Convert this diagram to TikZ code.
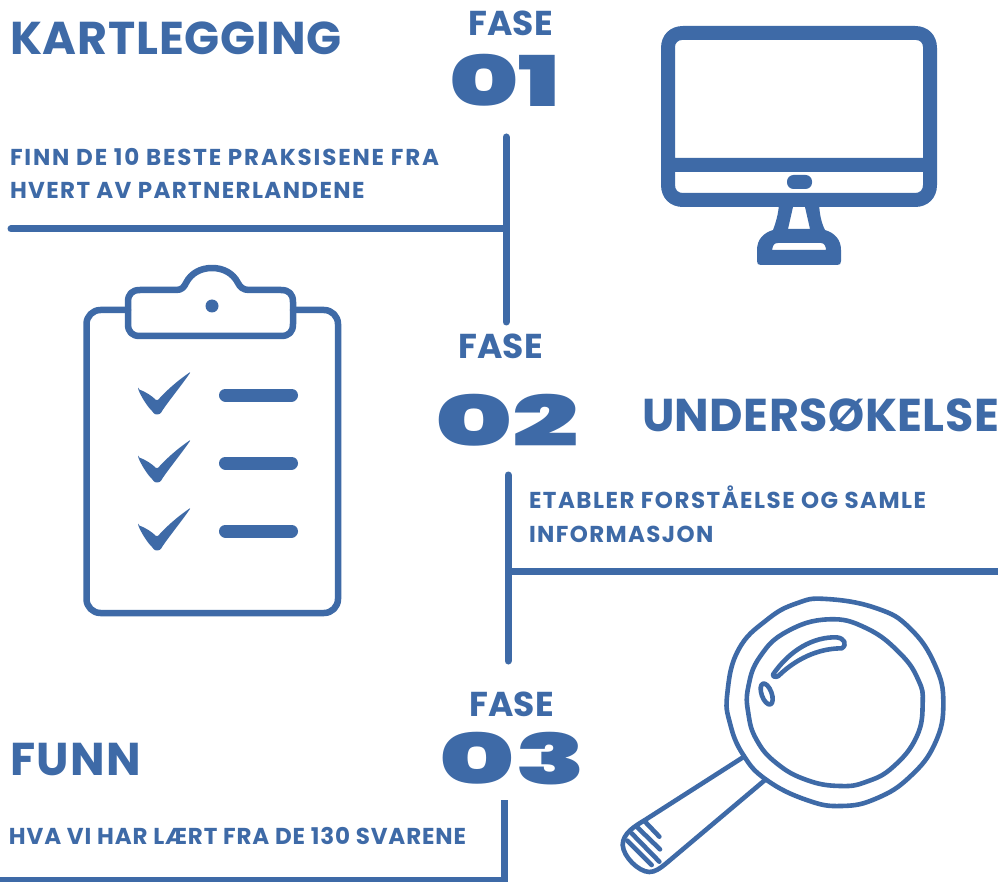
\documentclass[tikz,border=0pt]{standalone}
\usepackage{fontspec}
\setmainfont{Poppins}[BoldFont=Poppins Bold]
\newfontfamily\heavy{Poppins Black}
\newfontfamily\headf{Poppins Bold}[LetterSpace=1.8]
\newfontfamily\heads{Poppins Bold}[LetterSpace=1]
\newfontfamily\headw{Poppins Bold}[LetterSpace=3]
\newfontfamily\descf{Poppins Bold}[LetterSpace=6]
\newfontfamily\descw{Poppins Bold}[LetterSpace=8]
\newfontfamily\descm{Poppins Bold}[LetterSpace=6.5]
\newfontfamily\descg{Poppins Bold}[LetterSpace=3.7]
\newfontfamily\fasef{Poppins Bold}[LetterSpace=1]
\definecolor{blu}{HTML}{3E6AA7}
\tikzset{
 txt/.style={inner sep=0pt,outer sep=0pt,text=blu,anchor=base west,align=left},
 head/.style={txt,font=\headf\fontsize{46}{46}\selectfont},
 fase/.style={txt,font=\fasef\fontsize{34.5}{34.5}\selectfont},
 desc/.style={txt,font=\descf\fontsize{23}{23}\selectfont},
 bar/.style={draw=blu,line width=7pt,line cap=round},
 ink/.style={draw=blu,line join=round,line cap=round},
 num/.style={inner sep=0pt,text=blu,font=\heavy\fontsize{70}{70}\selectfont,anchor=base},
}
\begin{document}
\begin{tikzpicture}[x=1pt,y=-1pt]
\useasboundingbox[fill=white] (0,0) rectangle (998,882);
% text
\node[head] (t1) at (10,55) {KARTLEGGING};
\node[head,font=\heads\fontsize{46}{46}\selectfont] (t2) at (642,431) {UNDERSØKELSE};
\node[head,font=\headw\fontsize{46}{46}\selectfont] (t3) at (10,775) {FUNN};
\node[fase] (f1) at (468,36) {FASE};
\node[fase] (f2) at (458,358) {FASE};
\node[fase] (f3) at (469,716) {FASE};
\node[num] (n1) at (505,107) {\scalebox{1.5}[1]{01}};
\node[num] (n2) at (507,446) {\scalebox{1.67}[1]{02}};
\node[num] (n3) at (512.5,784) {\scalebox{1.63}[1]{03}};
\node[desc,font=\descw\fontsize{23}{23}\selectfont] (d1a) at (10,166) {FINN DE 10 BESTE PRAKSISENE FRA};
\node[desc] (d1b) at (10,199) {HVERT AV PARTNERLANDENE};
\node[desc,font=\descm\fontsize{23}{23}\selectfont] (d2a) at (529,508) {ETABLER FORSTÅELSE OG SAMLE};
\node[desc] (d2b) at (529,542) {INFORMASJON};
\node[desc,font=\descg\fontsize{23}{23}\selectfont] (d3) at (9,844) {HVA VI HAR LÆRT FRA DE 130 SVARENE};
% connectors
\coordinate (a1) at (506,137); \coordinate (a2) at (506,322);
\coordinate (a3) at (11,229); \coordinate (a4) at (506,229);
\coordinate (b1) at (508,475); \coordinate (b2) at (508,661);
\coordinate (b3) at (508,571); \coordinate (b4) at (998,571);
\coordinate (c1) at (504,800); \coordinate (c2) at (504,882);
\coordinate (c3) at (0,880); \coordinate (c4) at (504,880);
\draw[bar] (a1)--(a2); \draw[bar] (a3)--(a4);
\draw[bar] (b1)--(b2); \draw[bar,line cap=butt] (b3)--(b4);
\draw[bar,line cap=butt] (c1)--(c2); \draw[bar,line cap=butt] (c3)--(c4);
% monitor
\fill[blu,even odd rule]
  (661,48) .. controls (661,35) and (670,26) .. (683,26) -- (915,26)
  .. controls (928,26) and (937,35) .. (937,48) -- (937,185)
  .. controls (937,198) and (928,207) .. (915,207) -- (683,207)
  .. controls (670,207) and (661,198) .. (661,185) -- cycle
  (675,158) -- (675,47) .. controls (675,43) and (678,40) .. (682,40) -- (916,40)
  .. controls (920,40) and (923,43) .. (923,47) -- (923,158) -- cycle
  (675,172) -- (923,172) -- (923,185) .. controls (923,190) and (920,193) .. (915,193)
  -- (683,193) .. controls (678,193) and (675,190) .. (675,185) -- cycle;
\fill[blu,rounded corners=6.5pt] (787,175) rectangle (812,189);
\fill[blu,even odd rule]
  (779,205) .. controls (778,215) and (776,222) .. (773,230)
  .. controls (763,233) and (757,240) .. (757,250) -- (757,261) .. controls (757,264) and (758,265) .. (761,265)
  -- (837,265) .. controls (840,265) and (841,264) .. (841,261) -- (841,250)
  .. controls (841,240) and (835,233) .. (825,230)
  .. controls (821,222) and (820,215) .. (819,205) -- cycle
  (793,207) -- (805,207) -- (810,229) -- (788,229) -- cycle
  (772,250) .. controls (773,245) and (774,243) .. (778,243) -- (821,243) .. controls (824,243) and (826,246) .. (826,250) -- cycle;
% clipboard
\draw[ink,line width=6.5pt,rounded corners=14pt]
  (128,310) -- (86.5,310) -- (86.5,613) -- (338,613) -- (338,310) -- (293,310);
\draw[ink,line width=6.5pt]
  (140,290) -- (176,290) .. controls (182,290) and (184,287) .. (186,283)
  .. controls (191,273) and (201,268) .. (212,268)
  .. controls (223,268) and (233,273) .. (238,283)
  .. controls (240,287) and (243,290) .. (249,290) -- (281,290)
  .. controls (289,290) and (293,294) .. (293,302) -- (293,324)
  .. controls (293,332) and (289,336) .. (281,336) -- (140,336)
  .. controls (132,336) and (128,332) .. (128,324) -- (128,302)
  .. controls (128,294) and (132,290) .. (140,290) -- cycle;
\fill[blu] (212,306) circle[radius=6.5];
\foreach \d in {0,68,136}{
  \begin{scope}[yshift=-\d pt]
  \fill[blu,rounded corners=1.5pt] (138,389) .. controls (146,392) and (152,396) .. (157,401)
    .. controls (166,391) and (177,381) .. (191,371.5)
    .. controls (181,386) and (171,398) .. (162,411)
    .. controls (160,415) and (155,415) .. (153,412)
    .. controls (147,406) and (142,398) .. (138,389) -- cycle;
  \draw[blu,line width=13pt,line cap=round] (225.5,395) -- (291.5,395);
  \end{scope}
}
% magnifier (coordinates from a 3x grid)
\begin{scope}[shift={(610,600)},x=.33333pt,y=-.33333pt]
\draw[ink,line width=4.6pt] plot[smooth cycle,tension=.75] coordinates {(650,-3)(800,25)(900,85)(975,195)(1000,310)(975,430)(900,530)(800,595)(695,618)(590,600)(470,540)(400,465)(360,370)(352,280)(385,150)(470,60)(560,10)};
\draw[ink,line width=4.6pt] plot[smooth cycle,tension=.75] coordinates {(655,58)(770,85)(870,160)(925,240)(938,310)(920,410)(850,500)(770,545)(690,558)(590,540)(500,490)(440,420)(415,340)(415,260)(450,170)(530,95)};
\draw[ink,line width=4.6pt] (402,470) -- (105,660) .. controls (75,678) and (38,700) .. (38,735) .. controls (40,770) and (85,815) .. (118,816) .. controls (135,816) and (150,805) .. (165,793) -- (465,540);
\draw[ink,line width=4.6pt] (105,665)--(148,710) (80,680)--(150,748) (65,700)--(148,785) (52,722)--(125,795);
\draw[ink,line width=4.6pt] (490,222) .. controls (540,150) and (610,110) .. (680,112) .. controls (705,115) and (712,135) .. (695,145) .. controls (640,145) and (570,165) .. (505,228) .. controls (498,233) and (485,230) .. (490,222) -- cycle;
\draw[ink,line width=4.6pt,rotate around={20:(470,282)}] (470,282) ellipse[x radius=15,y radius=33];
\end{scope}
\end{tikzpicture}
\end{document}
